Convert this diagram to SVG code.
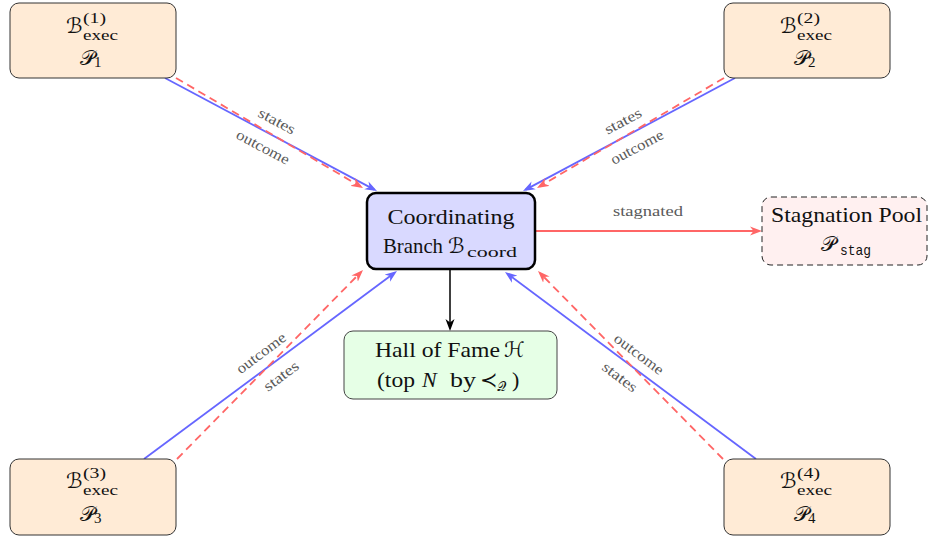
<svg xmlns="http://www.w3.org/2000/svg" width="928" height="537" viewBox="0 0 928 537">
  <style>
    .exec { fill: #ffebd6; stroke: #333; stroke-width: 1; }
    .coord { fill: #d9d9ff; stroke: #000; stroke-width: 2.5; }
    .hof { fill: #e6ffe6; stroke: #444; stroke-width: 1; }
    .stag { fill: #fff0f0; stroke: #222; stroke-width: 1; stroke-dasharray: 6 4; }
    .t { font-family: 'Liberation Serif', 'Times New Roman', serif; fill: #111; }
    .m { font-size: 22px; }
    .s { font-size: 15px; }
    .cal { font-family: 'DejaVu Serif', 'DejaVu Sans', 'Noto Sans CJK SC', serif; font-size: 21px; fill: #111; }
    .calsub { font-family: 'DejaVu Serif', 'DejaVu Sans', 'Noto Sans CJK SC', serif; font-size: 13px; fill: #111; }
    .lbl { font-family: 'Liberation Serif', 'Times New Roman', serif; font-size: 15px; fill: #5a5a5a; }
    .blue { fill: none; stroke: #6666ff; stroke-width: 1.8; }
    .red { fill: none; stroke: #ff6666; stroke-width: 1.8; stroke-dasharray: 8 5; }
    .redsolid { fill: none; stroke: #ff6666; stroke-width: 1.8; }
    .black { fill: none; stroke: #000; stroke-width: 1.5; }
  </style>
  <defs>
    <marker id="ahBlue" viewBox="0 0 12 10" refX="9" refY="5" markerWidth="12" markerHeight="10" markerUnits="userSpaceOnUse" orient="auto">
      <path d="M0,0.5 L12,5 L0,9.5 L3.5,5 Z" fill="#6666ff" stroke="none"/>
    </marker>
    <marker id="ahRed" viewBox="0 0 12 10" refX="9" refY="5" markerWidth="12" markerHeight="10" markerUnits="userSpaceOnUse" orient="auto">
      <path d="M0,0.5 L12,5 L0,9.5 L3.5,5 Z" fill="#ff6666" stroke="none"/>
    </marker>
    <marker id="ahBlack" viewBox="0 0 12 10" refX="9" refY="5" markerWidth="12" markerHeight="10" markerUnits="userSpaceOnUse" orient="auto">
      <path d="M0,0.5 L12,5 L0,9.5 L3.5,5 Z" fill="#000" stroke="none"/>
    </marker>
  </defs>

  <rect width="928" height="537" fill="#fff"/>

  <!-- connectors -->
  <g id="connectors">
    <!-- exec 1 -> coord -->
    <path class="blue" d="M165,78 L374.35,189.59" marker-end="url(#ahBlue)"/>
    <path class="red" d="M176,78 L360.41,186.48" marker-end="url(#ahRed)"/>
    <!-- exec 2 -> coord -->
    <path class="blue" d="M735,78 L525.65,189.59" marker-end="url(#ahBlue)"/>
    <path class="red" d="M724,78 L539.59,186.48" marker-end="url(#ahRed)"/>
    <!-- exec 3 -> coord -->
    <path class="blue" d="M144,459 L394.59,272.79" marker-end="url(#ahBlue)"/>
    <path class="red" d="M177,459 L360.9,272.14" marker-end="url(#ahRed)"/>
    <!-- exec 4 -> coord -->
    <path class="blue" d="M756,459 L507.41,273.79" marker-end="url(#ahBlue)"/>
    <path class="red" d="M723,459 L540.1,273.14" marker-end="url(#ahRed)"/>
    <!-- coord -> hall of fame -->
    <path class="black" d="M450,270 L450,328" marker-end="url(#ahBlack)"/>
    <!-- coord -> stagnation pool -->
    <path class="redsolid" d="M536,231 L759,231" marker-end="url(#ahRed)"/>

    <!-- edge labels -->
    <g transform="translate(277,121) rotate(28)"><text class="lbl" x="0" y="5" text-anchor="middle" textLength="40" lengthAdjust="spacingAndGlyphs">states</text></g>
    <g transform="translate(263,147) rotate(28)"><text class="lbl" x="0" y="5" text-anchor="middle" textLength="58" lengthAdjust="spacingAndGlyphs">outcome</text></g>
    <g transform="translate(623,121) rotate(-28)"><text class="lbl" x="0" y="5" text-anchor="middle" textLength="40" lengthAdjust="spacingAndGlyphs">states</text></g>
    <g transform="translate(637,147) rotate(-28)"><text class="lbl" x="0" y="5" text-anchor="middle" textLength="58" lengthAdjust="spacingAndGlyphs">outcome</text></g>
    <g transform="translate(261,353) rotate(-37)"><text class="lbl" x="0" y="5" text-anchor="middle" textLength="58" lengthAdjust="spacingAndGlyphs">outcome</text></g>
    <g transform="translate(281,376) rotate(-37)"><text class="lbl" x="0" y="5" text-anchor="middle" textLength="40" lengthAdjust="spacingAndGlyphs">states</text></g>
    <g transform="translate(639,354) rotate(37)"><text class="lbl" x="0" y="5" text-anchor="middle" textLength="58" lengthAdjust="spacingAndGlyphs">outcome</text></g>
    <g transform="translate(620,377) rotate(37)"><text class="lbl" x="0" y="5" text-anchor="middle" textLength="40" lengthAdjust="spacingAndGlyphs">states</text></g>
    <text class="lbl" x="613" y="216" textLength="70" lengthAdjust="spacingAndGlyphs">stagnated</text>
  </g>

  <!-- execution branch 1 -->
  <g id="exec1">
    <rect class="exec" x="10" y="3" width="166" height="75" rx="9"/>
    <text class="cal" x="66" y="33">ℬ</text>
    <text class="t s" x="83" y="39.5" textLength="35" lengthAdjust="spacingAndGlyphs">exec</text>
    <text class="t s" x="83" y="23" textLength="23" lengthAdjust="spacingAndGlyphs">(1)</text>
    <text class="cal" x="80" y="65">𝒫</text>
    <text class="t s" x="94" y="67">1</text>
  </g>

  <!-- execution branch 2 -->
  <g id="exec2">
    <rect class="exec" x="724" y="3" width="166" height="75" rx="9"/>
    <text class="cal" x="780" y="33">ℬ</text>
    <text class="t s" x="797" y="39.5" textLength="35" lengthAdjust="spacingAndGlyphs">exec</text>
    <text class="t s" x="797" y="23" textLength="23" lengthAdjust="spacingAndGlyphs">(2)</text>
    <text class="cal" x="794" y="65">𝒫</text>
    <text class="t s" x="808" y="67">2</text>
  </g>

  <!-- execution branch 3 -->
  <g id="exec3">
    <rect class="exec" x="10" y="459" width="166" height="76" rx="9"/>
    <text class="cal" x="66" y="488">ℬ</text>
    <text class="t s" x="83" y="494.5" textLength="35" lengthAdjust="spacingAndGlyphs">exec</text>
    <text class="t s" x="83" y="478" textLength="23" lengthAdjust="spacingAndGlyphs">(3)</text>
    <text class="cal" x="80" y="521">𝒫</text>
    <text class="t s" x="94" y="523">3</text>
  </g>

  <!-- execution branch 4 -->
  <g id="exec4">
    <rect class="exec" x="724" y="459" width="166" height="76" rx="9"/>
    <text class="cal" x="780" y="488">ℬ</text>
    <text class="t s" x="797" y="494.5" textLength="35" lengthAdjust="spacingAndGlyphs">exec</text>
    <text class="t s" x="797" y="478" textLength="23" lengthAdjust="spacingAndGlyphs">(4)</text>
    <text class="cal" x="794" y="521">𝒫</text>
    <text class="t s" x="808" y="523">4</text>
  </g>

  <!-- coordinating branch -->
  <g id="coord">
    <rect class="coord" x="367" y="193" width="168" height="76" rx="9"/>
    <text class="t m" x="451" y="224" text-anchor="middle" textLength="127" lengthAdjust="spacingAndGlyphs">Coordinating</text>
    <text class="t m" x="383" y="253" textLength="60" lengthAdjust="spacingAndGlyphs">Branch</text>
    <text class="cal" x="448" y="253">ℬ</text>
    <text class="t s" x="467" y="257" textLength="50" lengthAdjust="spacingAndGlyphs">coord</text>
  </g>

  <!-- stagnation pool -->
  <g id="stagnation">
    <rect class="stag" x="762" y="197" width="165" height="68" rx="9"/>
    <text class="t m" x="771" y="222" textLength="151" lengthAdjust="spacingAndGlyphs">Stagnation Pool</text>
    <text class="cal" x="821" y="251">𝒫</text>
    <text x="840" y="255" font-family="'Liberation Mono', monospace" font-size="15" fill="#111" textLength="31" lengthAdjust="spacingAndGlyphs">stag</text>
  </g>

  <!-- hall of fame -->
  <g id="halloffame">
    <rect class="hof" x="344" y="331" width="213" height="68" rx="9"/>
    <text class="t m" x="375" y="357" textLength="125" lengthAdjust="spacingAndGlyphs">Hall of Fame</text>
    <text class="cal" x="504" y="357">ℋ</text>
    <text class="t m" x="377" y="387" textLength="38" lengthAdjust="spacingAndGlyphs">(top</text>
    <text class="t m" x="422" y="387" font-style="italic" font-size="23">N</text>
    <text class="t m" x="450" y="387" textLength="26" lengthAdjust="spacingAndGlyphs">by</text>
    <text class="cal" x="480" y="387" font-size="18">≺</text>
    <text class="calsub" x="497" y="391">𝒬</text>
    <text class="t m" x="512" y="387">)</text>
  </g>
</svg>
